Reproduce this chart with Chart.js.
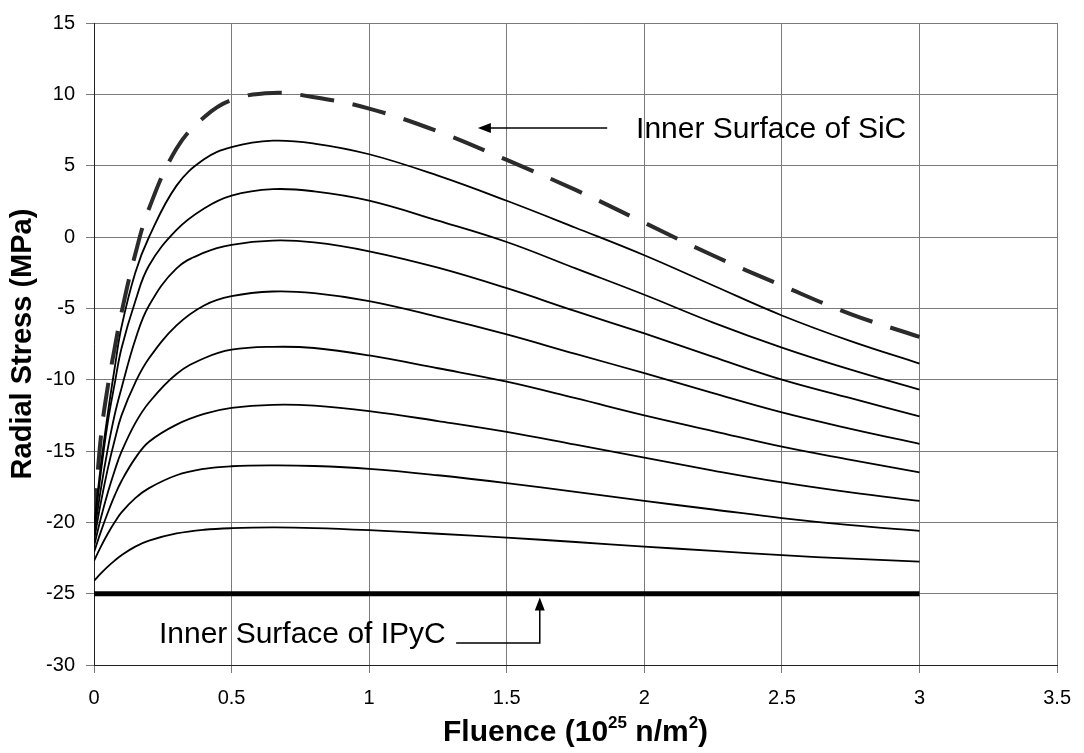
<!DOCTYPE html>
<html>
<head>
<meta charset="utf-8">
<script src="https://cdn.jsdelivr.net/npm/chart.js@4.4.1/dist/chart.umd.min.js"></script>
<style>
  html, body { margin: 0; padding: 0; background: #fff; }
  #wrap { width: 1084px; height: 753px; }
</style>
</head>
<body>
<div id="wrap"><canvas id="stress-chart" width="1084" height="753"></canvas></div>
<script>
// values (fluence in 10^25 n/m^2, stress in MPa)
const fluence = [0, 0.025, 0.05, 0.075, 0.1, 0.15, 0.2, 0.3, 0.4, 0.5, 0.65, 0.8, 1, 1.25, 1.5, 1.75, 2, 2.25, 2.5, 2.75, 3];

const sicInner = [-20.0, -14.0, -10.5, -7.8, -5.3, -1.2, 2.0, 6.2, 8.4, 9.6, 10.1, 9.8, 9.0, 7.4, 5.4, 3.3, 1.0, -1.3, -3.4, -5.4, -7.0];
const layer1 = [-20.3, -16.0, -12.4, -9.2, -6.3, -2.5, 0.0, 3.6, 5.45, 6.3, 6.75, 6.55, 5.8, 4.3, 2.54, 0.65, -1.28, -3.4, -5.5, -7.3, -8.87];
const layer2 = [-20.6, -16.5, -13.0, -10.3, -7.8, -4.5, -2.0, 0.5, 2.0, 2.9, 3.35, 3.2, 2.55, 1.15, -0.35, -2.2, -4.05, -6.0, -7.75, -9.3, -10.7];
const layer3 = [-20.9, -17.65, -14.85, -12.48, -10.6, -7.2, -4.8, -2.2, -1.1, -0.55, -0.25, -0.38, -1.0, -2.15, -3.59, -5.2, -6.76, -8.4, -10.0, -11.3, -12.57];
const layer4 = [-21.3, -18.6, -16.25, -14.25, -12.5, -10.2, -8.5, -6.2, -4.8, -4.15, -3.82, -3.94, -4.5, -5.6, -6.83, -8.2, -9.54, -10.95, -12.3, -13.45, -14.5];
const layer5 = [-21.7, -19.7, -17.93, -16.38, -15.05, -13.05, -11.6, -9.6, -8.5, -7.9, -7.7, -7.78, -8.3, -9.2, -10.14, -11.3, -12.5, -13.6, -14.7, -15.62, -16.5];
const layer6 = [-22.1, -20.65, -19.33, -18.13, -17.1, -15.5, -14.35, -13.15, -12.4, -11.98, -11.76, -11.82, -12.2, -12.9, -13.66, -14.56, -15.47, -16.37, -17.2, -17.9, -18.5];
const layer7 = [-22.7, -21.7, -20.8, -20.0, -19.3, -18.3, -17.6, -16.7, -16.25, -16.07, -16.01, -16.05, -16.25, -16.7, -17.25, -17.87, -18.5, -19.1, -19.7, -20.2, -20.6];
const layer8 = [-24.1, -23.58, -23.1, -22.68, -22.3, -21.7, -21.28, -20.78, -20.52, -20.41, -20.36, -20.4, -20.55, -20.8, -21.07, -21.38, -21.7, -22.0, -22.3, -22.55, -22.75];

const ipycFluence = [0, 3];
const ipycInner = [-25, -25];

const layers = [layer1, layer2, layer3, layer4, layer5, layer6, layer7, layer8];

const xTicks = { min: 0, max: 3.5, step: 0.5 };
const yTicks = { min: -30, max: 15, step: 5 };

const FONT = "'Liberation Sans', Arial, sans-serif";

// note positions in data units
const notes = {
  sic: { text: 'Inner Surface of SiC', x: 1.97, y: 7.52, arrowFrom: 1.865, arrowTo: 1.395, arrowY: 7.64 },
  ipyc: { text: 'Inner Surface of IPyC', x: 0.236, y: -27.9, lineFrom: 1.316, lineTo: 1.62, lineY: -28.45, tipY: -25.26 }
};

const toPoints = (xs, ys) => xs.map((x, i) => ({ x, y: ys[i] }));

const datasets = [
  {
    data: toPoints(ipycFluence, ipycInner),
    borderColor: '#000',
    borderWidth: 5,
  },
  ...layers.map(vals => ({
    data: toPoints(fluence, vals),
    borderColor: '#000',
    borderWidth: 1.8,
    tension: 0.4,
  })),
  {
    data: toPoints(fluence, sicInner),
    borderColor: '#2b2b2b',
    borderWidth: 4,
    borderDash: [34, 19],
    tension: 0.4,
  },
];

const arrowHead = (ctx, x, y, dir) => {
  // dir: 'left' or 'up'
  ctx.beginPath();
  if (dir === 'left') {
    ctx.moveTo(x, y);
    ctx.lineTo(x + 13, y - 5);
    ctx.lineTo(x + 13, y + 5);
  } else {
    ctx.moveTo(x, y);
    ctx.lineTo(x - 5, y + 13);
    ctx.lineTo(x + 5, y + 13);
  }
  ctx.closePath();
  ctx.fill();
};

const annotations = {
  id: 'annotations',
  afterDraw(chart) {
    const { ctx, chartArea, scales: { x, y } } = chart;
    ctx.save();
    ctx.fillStyle = '#000';
    ctx.strokeStyle = '#000';
    ctx.lineWidth = 1.5;

    // SiC note
    const s = notes.sic;
    ctx.font = `30px ${FONT}`;
    ctx.textAlign = 'left';
    ctx.textBaseline = 'middle';
    ctx.fillText(s.text, x.getPixelForValue(s.x), y.getPixelForValue(s.y));
    const ay = y.getPixelForValue(s.arrowY);
    const ax0 = x.getPixelForValue(s.arrowFrom);
    const ax1 = x.getPixelForValue(s.arrowTo);
    ctx.beginPath();
    ctx.moveTo(ax0, ay);
    ctx.lineTo(ax1 + 10, ay);
    ctx.stroke();
    arrowHead(ctx, ax1, ay, 'left');

    // IPyC note
    const p = notes.ipyc;
    ctx.fillText(p.text, x.getPixelForValue(p.x), y.getPixelForValue(p.y));
    const ly = y.getPixelForValue(p.lineY);
    const lx0 = x.getPixelForValue(p.lineFrom);
    const lx1 = x.getPixelForValue(p.lineTo);
    const ty = y.getPixelForValue(p.tipY);
    ctx.beginPath();
    ctx.moveTo(lx0, ly);
    ctx.lineTo(lx1, ly);
    ctx.lineTo(lx1, ty + 10);
    ctx.stroke();
    arrowHead(ctx, lx1, ty, 'up');

    // y axis title
    ctx.save();
    ctx.font = `bold 29px ${FONT}`;
    ctx.textAlign = 'center';
    ctx.textBaseline = 'middle';
    ctx.translate(23, (chartArea.top + chartArea.bottom) / 2);
    ctx.rotate(-Math.PI / 2);
    ctx.fillText('Radial Stress (MPa)', 0, 0);
    ctx.restore();

    // x axis title with superscripts
    const parts = [
      { t: 'Fluence (10', sup: false },
      { t: '25', sup: true },
      { t: ' n/m', sup: false },
      { t: '2', sup: true },
      { t: ')', sup: false },
    ];
    const mainFont = `bold 30px ${FONT}`;
    const supFont = `bold 17px ${FONT}`;
    let total = 0;
    parts.forEach(pt => {
      ctx.font = pt.sup ? supFont : mainFont;
      pt.w = ctx.measureText(pt.t).width;
      total += pt.w;
    });
    const base = 741;
    let cx = (chartArea.left + chartArea.right) / 2 - total / 2;
    ctx.textAlign = 'left';
    ctx.textBaseline = 'alphabetic';
    parts.forEach(pt => {
      ctx.font = pt.sup ? supFont : mainFont;
      ctx.fillText(pt.t, cx, pt.sup ? base - 13 : base);
      cx += pt.w;
    });

    ctx.restore();
  }
};

const ctx = document.getElementById('stress-chart').getContext('2d');

new Chart(ctx, {
  type: 'line',
  data: { datasets },
  options: {
    responsive: false,
    animation: false,
    devicePixelRatio: 1,
    layout: { padding: { top: 17, right: 22, left: 0, bottom: 0 } },
    elements: { point: { radius: 0 } },
    plugins: {
      legend: { display: false },
      tooltip: { enabled: false },
    },
    scales: {
      x: {
        type: 'linear',
        min: xTicks.min,
        max: xTicks.max,
        ticks: {
          stepSize: xTicks.step,
          color: '#000',
          font: { size: 20, family: FONT },
          padding: 13,
          maxRotation: 0,
          autoSkip: false,
          callback: v => String(v),
        },
        grid: { color: '#7a7a7a', lineWidth: 1, tickLength: 8 },
        border: { color: '#222', width: 1 },
        afterFit: scale => { scale.height = 88; },
      },
      y: {
        type: 'linear',
        min: yTicks.min,
        max: yTicks.max,
        ticks: {
          stepSize: yTicks.step,
          color: '#000',
          font: { size: 20, family: FONT },
          padding: 11,
          callback: v => String(v),
        },
        grid: { color: '#7a7a7a', lineWidth: 1, tickLength: 8 },
        border: { color: '#222', width: 1 },
        afterFit: scale => { scale.width = 94; },
      },
    },
  },
  plugins: [annotations],
});
</script>
</body>
</html>
